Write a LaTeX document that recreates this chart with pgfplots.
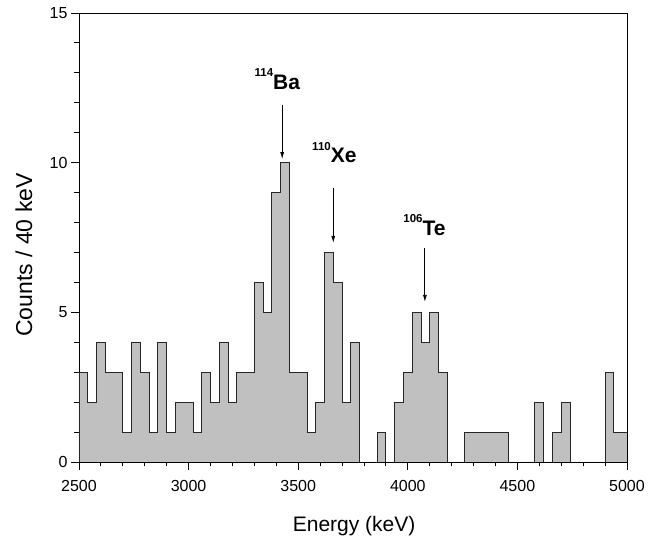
\documentclass[border=0pt]{standalone}
\usepackage{fontspec}
\setmainfont{Liberation Sans}
\usepackage{pgfplots}
\pgfplotsset{compat=1.18}
\usetikzlibrary{arrows.meta}
\definecolor{histgray}{RGB}{192,192,192}
\newcommand{\iso}[2]{\bfseries{\fontsize{11.5}{12}\selectfont\raisebox{12.5pt}{#1}}{\fontsize{21}{22}\selectfont #2}}
\begin{document}
\begin{tikzpicture}[x=1pt,y=1pt]
\begin{axis}[
  at={(0,0)}, anchor=south west,
  scale only axis, width=548pt, height=449pt,
  xmin=2500, xmax=5000, ymin=0, ymax=15,
  xtick={2500,3000,3500,4000,4500,5000},
  ytick={0,5,10,15},
  minor x tick num=4, minor y tick num=4,
  tick align=outside, xtick pos=bottom, ytick pos=left,
  major tick length=8pt, minor tick length=4.5pt,
  scaled ticks=false,
  /pgf/number format/1000 sep={},
  /pgf/number format/assume math mode=true,
  ticklabel style={font=\fontsize{16}{17}\selectfont},
  xticklabel style={yshift=-7pt},
  axis line style={line width=0.9pt},
  every tick/.style={line width=0.9pt, black},
  xlabel={Energy (keV)},
  ylabel={Counts / 40 keV},
  xlabel style={font=\fontsize{21}{22}\selectfont, at={(axis description cs:0.502,-0.1559)}, anchor=base},
  ylabel style={font=\fontsize{23}{24}\selectfont, at={(axis description cs:-0.1004,0.461)}, anchor=center},
]
\addplot[const plot, fill=histgray, draw=black!85, line width=0.9pt] coordinates {
(2500,3) (2540,2) (2580,4) (2620,3) (2660,3) (2700,1) (2740,4) (2780,3)
(2820,1) (2860,4) (2900,1) (2940,2) (2980,2) (3020,1) (3060,3) (3100,2)
(3140,4) (3180,2) (3220,3) (3260,3) (3300,6) (3340,5) (3380,9) (3420,10)
(3460,3) (3500,3) (3540,1) (3580,2) (3620,7) (3660,6) (3700,2) (3740,4)
(3780,0) (3820,0) (3860,1) (3900,0) (3940,2) (3980,3) (4020,5) (4060,4)
(4100,5) (4140,3) (4180,0) (4220,0) (4260,1) (4300,1) (4340,1) (4380,1)
(4420,1) (4460,0) (4500,0) (4540,0) (4580,2) (4620,0) (4660,1) (4700,2)
(4740,0) (4780,0) (4820,0) (4860,0) (4900,3) (4940,1) (4980,1) (5000,1)
} \closedcycle;
\draw[line width=0.8pt, -{Latex[length=7pt,width=4pt]}] (axis cs:3427,11.93) -- (axis cs:3427,10.12);
\draw[line width=0.8pt, -{Latex[length=7pt,width=4pt]}] (axis cs:3660,9.15) -- (axis cs:3660,7.32);
\draw[line width=0.8pt, -{Latex[length=7pt,width=4pt]}] (axis cs:4078,7.15) -- (axis cs:4078,5.35);
\node[anchor=base, inner sep=0pt] at (axis cs:3405,12.46) {\iso{114}{Ba}};
\node[anchor=base, inner sep=0pt] at (axis cs:3665,9.99) {\iso{110}{Xe}};
\node[anchor=base, inner sep=0pt] at (axis cs:4076,7.58) {\iso{106}{Te}};
\end{axis}
\pgfresetboundingbox
\useasboundingbox (-79,-76) rectangle (586,462);
\end{tikzpicture}
\end{document}
